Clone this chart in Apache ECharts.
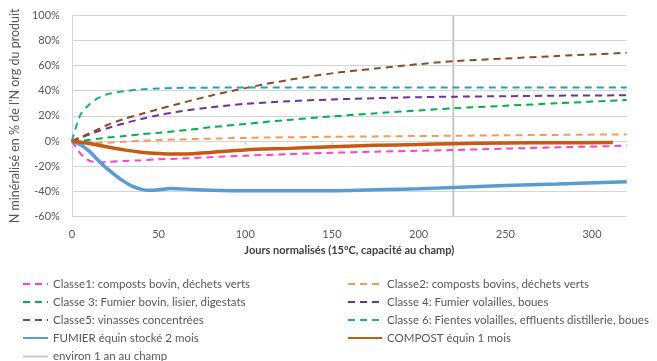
<!DOCTYPE html>
<html>
<head>
<meta charset="utf-8">
<script src="https://cdn.jsdelivr.net/npm/echarts@6/dist/echarts.min.js"></script>
<style>html,body{margin:0;padding:0;background:#fff}#c{width:657px;height:361px}</style>
</head>
<body>
<div id="c"></div>
<script>
// ---- data ----
var classDays = [0, 5, 10, 15, 20, 30, 40, 50, 60, 80, 100, 125, 150, 175, 200, 220, 250, 280, 320];
var classe1 = [0, -10, -15.5, -17, -16.5, -15.8, -15.2, -14.5, -14, -12.8, -11.6, -10.4, -9.3, -8.4, -7.7, -7.1, -6, -5, -3.7];
var classe2 = [0, -0.5, -1.2, -1.5, -1.3, -0.6, 0.2, 0.8, 1.2, 1.9, 2.5, 3, 3.4, 3.7, 4, 4.2, 4.6, 4.9, 5.3];
var classe3 = [0, 0.2, 0.8, 1.8, 2.7, 4, 5.4, 6.6, 7.9, 10.9, 13.6, 16.8, 19.6, 22, 24.3, 26, 28, 30, 32.5];
var classe4 = [0, 2.7, 5.2, 7.7, 10, 14, 17.5, 20.5, 23, 26.8, 29.5, 31.6, 33, 34, 34.8, 35.2, 35.6, 36, 36.3];
var classe5 = [0, 3, 6, 9.3, 12.5, 17.5, 21.5, 25.3, 29, 36, 42, 48.5, 53.7, 57.5, 61, 63.3, 65.5, 67.5, 70];
var classe6 = [0, 21, 29, 34, 37, 39.5, 41, 41.7, 42.1, 42.4, 42.5, 42.5, 42.5, 42.5, 42.5, 42.5, 42.5, 42.5, 42.5];
var fumierDays = [0, 5, 10, 15, 20, 25, 30, 35, 40, 45, 50, 57, 70, 80, 100, 150, 200, 220, 250, 280, 320];
var fumierVals = [0, -3, -8, -15, -21.5, -27, -32, -36, -38.3, -39, -38.6, -37.6, -38.5, -39, -39.4, -39.4, -37.8, -36.8, -35.2, -34, -32.3];
var compostDays = [0, 10, 20, 30, 40, 50, 60, 70, 80, 100, 125, 150, 175, 200, 220, 250, 280, 312];
var compostVals = [0, -2, -4.5, -7, -8.8, -9.8, -10.2, -10, -9, -7, -5.8, -4.5, -3.4, -2.7, -2.1, -1.6, -1.3, -1.2];
var refDays = [220, 220];
var refVals = [-60, 100];
var xTicks = [0, 50, 100, 150, 200, 250, 300];

var names = {
  c1: 'Classe1: composts bovin, déchets verts',
  c2: 'Classe2: composts bovins, déchets verts',
  c3: 'Classe 3: Fumier bovin, lisier, digestats',
  c4: 'Classe 4: Fumier volailles, boues',
  c5: 'Classe5: vinasses concentrées',
  c6: 'Classe 6: Fientes volailles, effluents distillerie, boues',
  fu: 'FUMIER équin stocké 2 mois',
  co: 'COMPOST équin 1 mois',
  ref: 'environ 1 an au champ'
};

function pairs(xs, ys) { return xs.map(function (x, i) { return [x, ys[i]]; }); }
var FONT = 'Lato';
function dashed(name, vals, color) {
  return {
    name: name, type: 'line', data: pairs(classDays, vals), symbol: 'none',
    smooth: 0.3, xAxisIndex: 0,
    lineStyle: { color: color, width: 2, type: [7, 5] }, itemStyle: { color: color }
  };
}
function legendBlock(left, top, w, data) {
  return {
    left: left, top: top, orient: 'vertical', itemWidth: w, itemHeight: 14, itemGap: 6, padding: 0,
    itemStyle: { opacity: 0 },
    textStyle: { color: '#595959', fontSize: 11.5, fontFamily: FONT },
    data: data
  };
}

var chart = echarts.init(document.getElementById('c'), null, { renderer: 'canvas' });
chart.setOption({
  animation: false,
  textStyle: { fontFamily: FONT },
  grid: { left: 67.7, right: 30.3, top: 15, bottom: 144.3, containLabel: false },
  xAxis: [{
    type: 'value', min: 0, max: 320, interval: 50, position: 'bottom',
    axisLine: { show: false, onZero: false }, axisTick: { show: false },
    splitLine: { show: false },
    axisLabel: { customValues: xTicks, color: '#595959', fontSize: 11, fontFamily: FONT, margin: 12 },
    name: 'Jours normalisés (15°C, capacité au champ)', nameLocation: 'middle', nameGap: 27,
    nameTextStyle: { color: '#404040', fontSize: 11, fontWeight: 'bold', fontFamily: FONT }
  }, {
    type: 'value', min: 0, max: 320, interval: 50, position: 'bottom',
    axisLine: { show: true, onZero: true, lineStyle: { color: '#d4d4d4', width: 1 } },
    axisTick: { show: true, customValues: xTicks, length: 4, lineStyle: { color: '#d4d4d4' } },
    axisLabel: { show: false }, splitLine: { show: false }
  }],
  yAxis: {
    type: 'value', min: -60, max: 100, interval: 20,
    axisLine: { show: true, lineStyle: { color: '#d4d4d4', width: 1 } },
    axisTick: { show: false },
    splitLine: { show: true, lineStyle: { color: '#d4d4d4', width: 1 } },
    axisLabel: { formatter: '{value}%', color: '#595959', fontSize: 11, fontFamily: FONT, margin: 12 },
    name: "N minéralisé en % de l'N org du produit", nameLocation: 'middle', nameRotate: 90, nameGap: 50,
    nameTextStyle: { color: '#595959', fontSize: 12.5, fontFamily: FONT }
  },
  legend: [
    legendBlock(22, 278, 25, [names.c1, names.c3, names.c5, names.fu]),
    legendBlock(22, 350.5, 25, [names.ref]),
    legendBlock(347, 278, 34, [names.c2, names.c4, names.c6, names.co])
  ],
  series: [
    { name: names.ref, type: 'line', data: pairs(refDays, refVals), symbol: 'none',
      lineStyle: { color: '#c8c8c8', width: 2 }, itemStyle: { color: '#c8c8c8' } },
    dashed(names.c1, classe1, '#FF3FCF'),
    dashed(names.c2, classe2, '#F5995A'),
    dashed(names.c3, classe3, '#00B050'),
    dashed(names.c4, classe4, '#7030A0'),
    dashed(names.c5, classe5, '#8A4B24'),
    dashed(names.c6, classe6, '#1FA7A7'),
    { name: names.fu, type: 'line', data: pairs(fumierDays, fumierVals), symbol: 'none',
      smooth: 0.3,
      lineStyle: { color: '#5B9BD5', width: 3.5 }, itemStyle: { color: '#5B9BD5' } },
    { name: names.co, type: 'line', data: pairs(compostDays, compostVals), symbol: 'none',
      smooth: 0.3,
      lineStyle: { color: '#C55A11', width: 3.5 }, itemStyle: { color: '#C55A11' } }
  ]
});
</script>
</body>
</html>
